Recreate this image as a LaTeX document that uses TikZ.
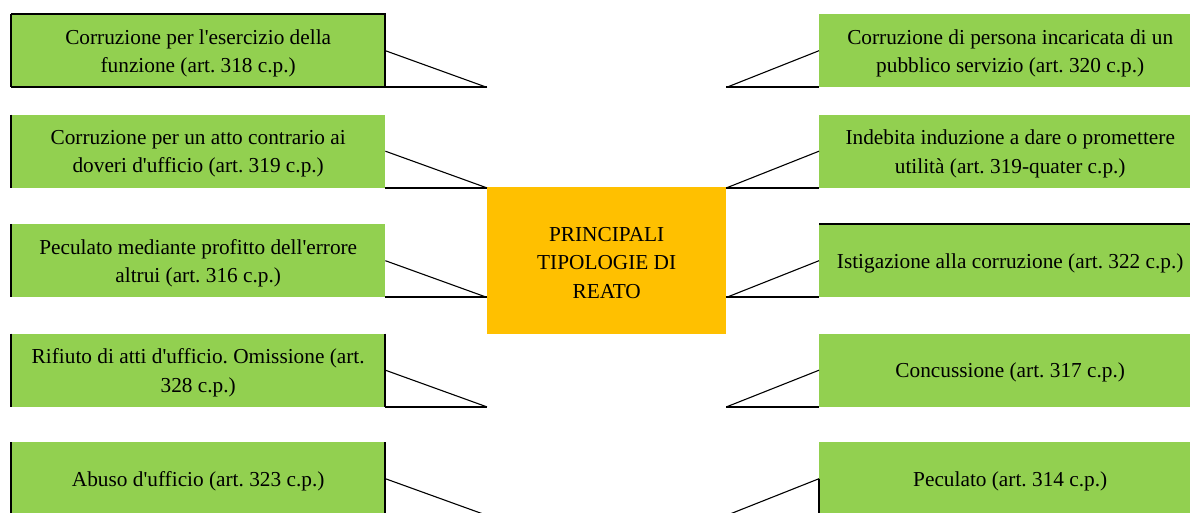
\documentclass[tikz,border=0pt]{standalone}
\usepackage{fontspec}
\setmainfont{Liberation Serif}
\definecolor{boxgreen}{HTML}{92D050}
\definecolor{boxorange}{HTML}{FFC000}
\newcommand{\ap}{\textquotesingle}
\begin{document}
\frenchspacing
\begin{tikzpicture}[x=1pt,y=-1pt,
  txt/.style={align=center, inner sep=0pt, font=\fontsize{21.3}{28.5}\selectfont\frenchspacing, text=black},
  gtxt/.style={txt, yshift=-2.5pt},
  ctxt/.style={txt, yshift=-2pt},
  lbox/.style={fill=boxgreen, inner sep=0pt, minimum width=374pt, minimum height=73pt, anchor=north west},
  rbox/.style={fill=boxgreen, inner sep=0pt, minimum width=382pt, minimum height=73pt, anchor=north west},
  cbox/.style={fill=boxorange, inner sep=0pt, minimum width=239pt, minimum height=147pt, anchor=north west},
  edge/.style={draw=black, line width=2pt},
  pointer/.style={draw=black, line width=1.1pt}]
\useasboundingbox (0,0) rectangle (1190,512);
\clip (0,0) rectangle (1190,512);

% center
\node[cbox, label={[ctxt]center:{PRINCIPALI\\TIPOLOGIE DI\\REATO}}] (C) at (487,187) {};

% left boxes
\node[lbox, label={[gtxt]center:{Corruzione per l\ap esercizio della\\funzione (art. 318 c.p.)}}] (L1) at (11,14) {};
\node[lbox, label={[gtxt]center:{Corruzione per un atto contrario ai\\doveri d\ap ufficio (art. 319 c.p.)}}] (L2) at (11,114.5) {};
\node[lbox, label={[gtxt]center:{Peculato mediante profitto dell\ap errore\\altrui (art. 316 c.p.)}}] (L3) at (11,224) {};
\node[lbox, label={[gtxt]center:{Rifiuto di atti d\ap ufficio. Omissione (art.\\328 c.p.)}}] (L4) at (11,333.5) {};
\node[lbox, label={[gtxt]center:{Abuso d\ap ufficio (art. 323 c.p.)}}] (L5) at (11,442) {};

% right boxes
\node[rbox, label={[gtxt]center:{Corruzione di persona incaricata di un\\pubblico servizio (art. 320 c.p.)}}] (R1) at (819,14) {};
\node[rbox, label={[gtxt]center:{Indebita induzione a dare o promettere\\utilità (art. 319-quater c.p.)}}] (R2) at (819,114.5) {};
\node[rbox, label={[gtxt]center:{Istigazione alla corruzione (art. 322 c.p.)}}] (R3) at (819,224) {};
\node[rbox, label={[gtxt]center:{Concussione (art. 317 c.p.)}}] (R4) at (819,333.5) {};
\node[rbox, label={[gtxt]center:{Peculato (art. 314 c.p.)}}] (R5) at (819,442) {};

% pointer tips
\foreach \i in {1,...,5} {
  \coordinate (pL\i) at (L\i.south east -| C.west);
  \coordinate (pR\i) at (R\i.south west -| C.east);
}

% left pointers
\foreach \i in {1,...,5} {
  \draw[pointer] (L\i.east) -- (pL\i);
  \draw[edge] (L\i.south east) -- (pL\i);
  \draw[edge] (L\i.north west) -- (L\i.south west);
}
\draw[edge] (L1.south west) -- (L1.south east);
\draw[edge] (L1.north west) -- (L1.north east) -- (L1.south east);
\draw[edge] (L4.north east) -- (L4.south east);
\draw[edge] (L5.north east) -- (L5.south east);

% right pointers
\foreach \i in {1,...,5} {
  \draw[pointer] (R\i.west) -- (pR\i);
  \draw[edge] (R\i.south west) -- (pR\i);
}
\draw[edge] (R3.north west) -- (R3.north east);
\draw[edge] (R5.west) -- (R5.south west);
\end{tikzpicture}
\end{document}
